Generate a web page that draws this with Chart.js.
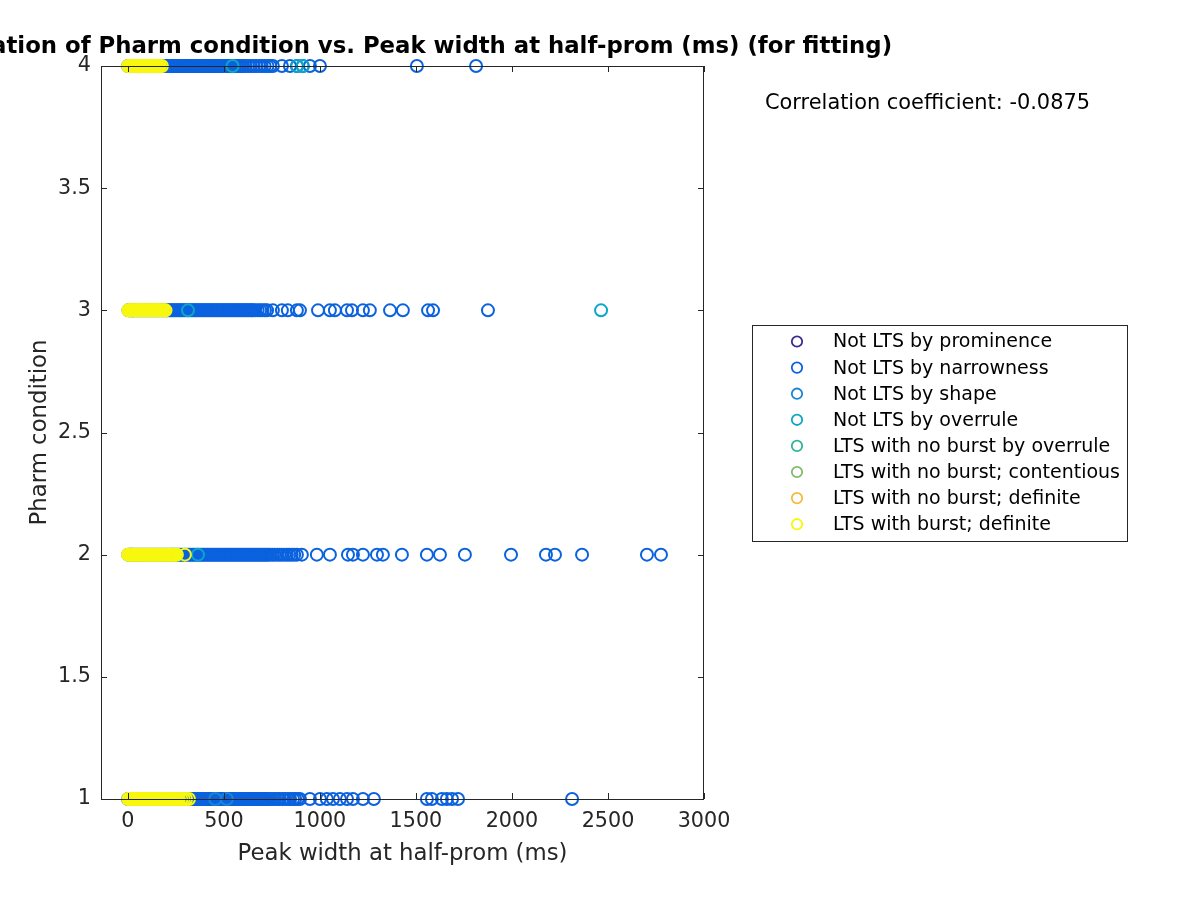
<!DOCTYPE html>
<html>
<head>
<meta charset="utf-8">
<script src="https://cdn.jsdelivr.net/npm/chart.js@4"></script>
<style>
  body { margin: 0; background: #fff; }
  #wrap { width: 1200px; height: 900px; }
</style>
</head>
<body>
<div id="wrap"><canvas id="corrChart" width="1200" height="900"></canvas></div>
<script>
const xTicks = [0, 500, 1000, 1500, 2000, 2500, 3000];
const xTickLabels = ["0", "500", "1000", "1500", "2000", "2500", "3000"];
const yTicks = [1, 1.5, 2, 2.5, 3, 3.5, 4];
const yTickLabels = ["1", "1.5", "2", "2.5", "3", "3.5", "4"];
const pharmLevels = [1, 2, 3, 4];

const seriesLabels = [
  "Not LTS by prominence",
  "Not LTS by narrowness",
  "Not LTS by shape",
  "Not LTS by overrule",
  "LTS with no burst by overrule",
  "LTS with no burst; contentious",
  "LTS with no burst; definite",
  "LTS with burst; definite"
];

// peak widths (ms) for each series, one list per pharm condition 1..4
const prominenceW = [[22], [18], [24], [20]];
const narrownessW = [
  [1, 9, 18, 26, 35, 43, 51, 60, 69, 77, 86, 94, 102, 111, 120, 129, 137, 145, 154, 163, 172, 180, 188, 197, 206, 215, 223, 231, 240, 249, 258, 266, 274, 283, 292, 300, 309, 318, 327, 335, 343, 352, 361, 370, 378, 386, 395, 404, 413, 421, 429, 438, 447, 456, 464, 472, 481, 490, 499, 507, 515, 524, 533, 542, 550, 558, 567, 576, 585, 593, 601, 610, 619, 628, 636, 644, 653, 662, 671, 679, 687, 696, 705, 714, 722, 730, 739, 752, 766, 779, 790, 806, 818, 833, 845, 860, 871, 884, 896, 948, 1000, 1036, 1068, 1104, 1141, 1172, 1224, 1281, 1557, 1583, 1635, 1661, 1688, 1719, 2313],
  [2, 10, 19, 27, 36, 44, 53, 61, 70, 79, 87, 96, 104, 113, 121, 130, 139, 147, 156, 164, 173, 181, 190, 199, 207, 216, 224, 233, 241, 250, 259, 267, 276, 284, 293, 301, 310, 319, 327, 336, 344, 353, 361, 370, 379, 387, 396, 404, 413, 421, 430, 439, 447, 456, 464, 473, 481, 490, 499, 507, 516, 524, 533, 541, 550, 559, 567, 576, 584, 593, 601, 610, 619, 627, 636, 644, 653, 661, 670, 679, 687, 696, 704, 713, 721, 730, 740, 752, 763, 777, 790, 801, 815, 828, 840, 853, 866, 880, 906, 984, 1052, 1146, 1172, 1224, 1297, 1328, 1427, 1557, 1625, 1755, 1995, 2177, 2224, 2365, 2703, 2776],
  [3, 11, 20, 28, 37, 45, 54, 62, 71, 80, 88, 97, 105, 114, 122, 131, 140, 148, 157, 165, 174, 182, 191, 200, 208, 217, 225, 234, 242, 251, 260, 268, 277, 285, 294, 302, 311, 320, 328, 337, 345, 354, 362, 371, 380, 388, 397, 405, 414, 422, 431, 440, 448, 457, 465, 474, 482, 491, 500, 508, 517, 525, 534, 542, 551, 560, 568, 577, 585, 594, 602, 611, 620, 628, 637, 645, 650, 662, 676, 689, 701, 714, 725, 755, 802, 833, 880, 896, 990, 1052, 1078, 1141, 1167, 1224, 1260, 1365, 1432, 1563, 1589, 1875],
  [1, 10, 18, 27, 35, 44, 52, 61, 69, 78, 87, 95, 104, 112, 121, 129, 138, 147, 155, 164, 172, 181, 189, 198, 207, 215, 224, 232, 241, 249, 258, 267, 275, 284, 292, 301, 309, 318, 327, 335, 344, 352, 361, 369, 378, 387, 395, 404, 412, 421, 429, 438, 447, 455, 464, 472, 481, 489, 498, 507, 515, 524, 532, 541, 549, 558, 567, 575, 584, 592, 600, 612, 626, 641, 655, 668, 684, 697, 712, 727, 741, 755, 802, 844, 880, 911, 948, 1000, 1505, 1813]
];
const shapeW = [[455, 515], [232], [], []];
const overruleW = [[], [365], [313, 2464], [545, 882, 910]];
const noBurstOverruleW = [[], [252], [], []];
const contentiousW = [[140], [], [], []];
const definiteW = [[95], [], [60], []];
const burstW = [
  [2, 8, 15, 21, 28, 35, 41, 48, 55, 61, 68, 74, 81, 88, 94, 101, 108, 114, 121, 127, 134, 141, 147, 154, 160, 167, 174, 180, 187, 194, 200, 207, 213, 220, 227, 233, 240, 247, 255, 266, 279, 291, 303, 318],
  [1, 8, 14, 21, 27, 34, 41, 47, 54, 60, 67, 74, 80, 87, 93, 100, 107, 113, 120, 126, 133, 140, 146, 153, 159, 166, 173, 179, 186, 192, 199, 206, 212, 219, 225, 232, 239, 246, 255, 297],
  [2, 9, 15, 22, 28, 35, 42, 48, 55, 61, 68, 75, 81, 88, 94, 101, 108, 114, 121, 127, 134, 141, 147, 154, 160, 167, 174, 182, 190, 196],
  [1, 8, 14, 21, 27, 34, 41, 47, 54, 60, 67, 74, 80, 87, 93, 100, 107, 113, 120, 126, 133, 140, 146, 153, 160, 168, 177]
];

const corrCoef = -0.0875;

const seriesWidths = [prominenceW, narrownessW, shapeW, overruleW,
  noBurstOverruleW, contentiousW, definiteW, burstW];
const seriesColors = ["#3a2c8e", "#0b62df", "#1a84d4", "#0ca7c6",
  "#2fb59b", "#82bb6c", "#f7b93d", "#f8f80f"];

const datasets = seriesLabels.map((label, i) => ({
  label: label,
  data: pharmLevels.flatMap((lvl, k) => seriesWidths[i][k].map(w => ({ x: w, y: lvl }))),
  borderColor: seriesColors[i],
  backgroundColor: "rgba(0,0,0,0)",
  pointRadius: 6,
  pointBorderWidth: 2,
  pointHoverRadius: 6,
  showLine: false,
  clip: false,
  order: seriesLabels.length - i   // later series drawn on top, like MATLAB
}));

const FONT = "'DejaVu Sans', sans-serif";
const INK = "#262626";

// frame, inside tick marks, title, legend box, correlation text
const decorations = {
  id: "decorations",
  afterDatasetsDraw(chart) {
    const { ctx, chartArea: a, scales } = chart;
    ctx.save();
    ctx.strokeStyle = INK;
    ctx.lineWidth = 1;
    ctx.strokeRect(a.left + 0.5, a.top + 0.5, a.right - a.left - 1, a.bottom - a.top);
    ctx.beginPath();
    xTicks.forEach(v => {
      const px = Math.round(scales.x.getPixelForValue(v)) + 0.5;
      ctx.moveTo(px, a.bottom); ctx.lineTo(px, a.bottom - 6);
      ctx.moveTo(px, a.top); ctx.lineTo(px, a.top + 6);
    });
    yTicks.forEach(v => {
      const py = Math.round(scales.y.getPixelForValue(v)) + 0.5;
      ctx.moveTo(a.left, py); ctx.lineTo(a.left + 6, py);
      ctx.moveTo(a.right, py); ctx.lineTo(a.right - 6, py);
    });
    ctx.stroke();

    // title, centred over the axes (runs off the left edge like the original)
    ctx.fillStyle = "#000";
    ctx.font = "bold 22.8px " + FONT;
    ctx.textAlign = "center";
    ctx.textBaseline = "middle";
    ctx.fillText("Correlation of Pharm condition vs. Peak width at half-prom (ms) (for fitting)",
      (a.left + a.right) / 2, 47);

    ctx.font = "20.9px " + FONT;
    ctx.textAlign = "left";
    ctx.fillText("Correlation coefficient: " + corrCoef, 765, 104);

    // legend
    const lx = 752, ly = 325, lw = 375, lh = 216;
    ctx.fillStyle = "#fff";
    ctx.fillRect(lx, ly, lw, lh);
    ctx.strokeStyle = INK;
    ctx.strokeRect(lx + 0.5, ly + 0.5, lw, lh);
    ctx.font = "19px " + FONT;
    seriesLabels.forEach((label, i) => {
      const cy = ly + 16.5 + i * 26.1;
      ctx.beginPath();
      ctx.arc(797, cy, 5.2, 0, Math.PI * 2);
      ctx.strokeStyle = seriesColors[i];
      ctx.lineWidth = 1.8;
      ctx.stroke();
      ctx.fillStyle = "#000";
      ctx.fillText(label, 833, cy + 1);
    });
    ctx.restore();
  }
};

new Chart(document.getElementById("corrChart"), {
  type: "scatter",
  data: { datasets },
  options: {
    responsive: false,
    animation: false,
    events: [],
    layout: { padding: { top: 66, right: 496, bottom: 0, left: 0 } },
    plugins: {
      legend: { display: false },
      tooltip: { enabled: false },
      title: { display: false }
    },
    scales: {
      x: {
        type: "linear",
        min: -140,
        max: 3000,
        afterBuildTicks: s => { s.ticks = xTicks.map(v => ({ value: v })); },
        afterFit: s => { s.height = 101; },
        grid: { display: false, drawTicks: false },
        border: { display: false },
        ticks: {
          color: INK, padding: 10, maxRotation: 0,
          font: { family: FONT, size: 20.7 },
          callback: (v, i) => xTickLabels[i]
        },
        title: {
          display: true,
          text: "Peak width at half-prom (ms)",
          color: INK,
          font: { family: FONT, size: 22.8 },
          padding: { top: 0, bottom: 32 }
        }
      },
      y: {
        type: "linear",
        min: 1,
        max: 4,
        afterBuildTicks: s => { s.ticks = yTicks.map(v => ({ value: v })); },
        afterFit: s => { s.width = 101; },
        grid: { display: false, drawTicks: false },
        border: { display: false },
        ticks: {
          color: INK, padding: 10,
          font: { family: FONT, size: 20.7 },
          callback: (v, i) => yTickLabels[i]
        },
        title: {
          display: true,
          text: "Pharm condition",
          color: INK,
          font: { family: FONT, size: 22.8 },
          padding: { top: 26, bottom: 0 }
        }
      }
    }
  },
  plugins: [decorations]
});
</script>
</body>
</html>
